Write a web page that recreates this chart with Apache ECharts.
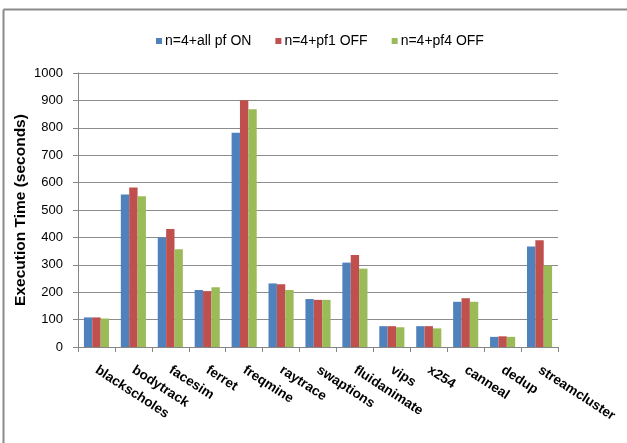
<!DOCTYPE html>
<html>
<head>
<meta charset="utf-8">
<script src="https://cdn.jsdelivr.net/npm/echarts@6/dist/echarts.min.js"></script>
<style>
  html, body { margin: 0; padding: 0; background: #fff; }
  #chart { width: 627px; height: 443px; }
</style>
</head>
<body>
<div id="chart"></div>
<script>
// PARSEC benchmarks: execution time under different prefetcher settings
const categories = ['blackscholes', 'bodytrack', 'facesim', 'ferret', 'freqmine', 'raytrace',
  'swaptions', 'fluidanimate', 'vips', 'x254', 'canneal', 'dedup', 'streamcluster'];
const seriesNames = ['n=4+all pf ON', 'n=4+pf1 OFF', 'n=4+pf4 OFF'];
const allPfOn  = [108, 557, 400, 208, 782, 232, 175, 308, 76, 76, 165, 37, 367];
const pf1Off   = [108, 582, 431, 204, 901, 229, 172, 336, 76, 76, 178, 39, 390];
const pf4Off   = [104, 550, 357, 218, 868, 208, 172, 286, 72, 68, 165, 37, 297];
const yTicks   = [0, 100, 200, 300, 400, 500, 600, 700, 800, 900, 1000];

const colors = ['#4F81BD', '#C0504D', '#9BBB59'];
const font = '"Liberation Sans", Arial, sans-serif';

const chart = echarts.init(document.getElementById('chart'), null, { renderer: 'canvas' });

const values = [allPfOn, pf1Off, pf4Off];
const series = seriesNames.map((name, i) => ({
  name,
  type: 'bar',
  data: values[i],
  itemStyle: { color: colors[i] },
  barGap: '0%',
  barCategoryGap: '32%'
}));

chart.setOption({
  animation: false,
  backgroundColor: '#fff',
  textStyle: { fontFamily: font },
  legend: {
    data: seriesNames,
    top: 29,
    left: 151,
    icon: 'rect',
    itemWidth: 6,
    itemHeight: 6,
    itemGap: 24,
    textStyle: { fontFamily: font, fontSize: 14, color: '#000', padding: [0, 0, 0, -2] }
  },
  grid: { left: 78, right: 69, top: 73, bottom: 96, containLabel: false },
  xAxis: {
    type: 'category',
    data: categories,
    boundaryGap: true,
    axisLine: { lineStyle: { color: '#868686', width: 1 } },
    axisTick: { show: true, length: 5, alignWithLabel: false, lineStyle: { color: '#868686' } },
    axisLabel: {
      interval: 0,
      rotate: -33,
      margin: 22,
      fontFamily: font,
      fontSize: 13.5,
      fontWeight: 'bold',
      color: '#000'
    }
  },
  yAxis: {
    type: 'value',
    min: yTicks[0],
    max: yTicks[yTicks.length - 1],
    interval: 100,
    name: 'Execution Time (seconds)',
    nameLocation: 'middle',
    nameGap: 49,
    nameMoveOverlap: false,
    nameTextStyle: { fontFamily: font, fontSize: 15.5, fontWeight: 'bold', color: '#000' },
    axisLine: { show: true, lineStyle: { color: '#868686' } },
    axisTick: { show: true, length: 5, lineStyle: { color: '#868686' } },
    axisLabel: {
      fontFamily: font,
      fontSize: 13,
      color: '#000',
      margin: 15,
      formatter: (v) => String(v)
    },
    splitLine: { show: true, lineStyle: { color: '#8c8c8c', width: 1 } }
  },
  graphic: [
    { type: 'line', shape: { x1: 3.5, y1: 9.5, x2: 627, y2: 9.5 }, style: { stroke: '#8a8a8a', lineWidth: 2 } },
    { type: 'line', shape: { x1: 3.5, y1: 9.5, x2: 3.5, y2: 443 }, style: { stroke: '#8a8a8a', lineWidth: 2 } }
  ],
  series
});
</script>
</body>
</html>
